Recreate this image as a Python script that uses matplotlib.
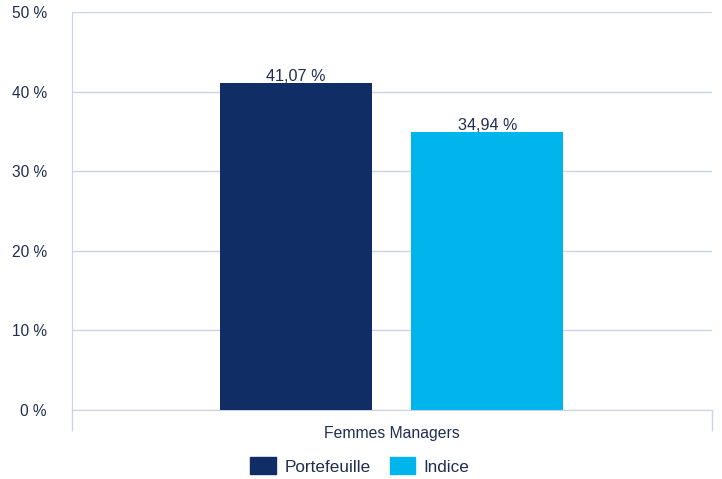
import numpy as np
import matplotlib.pyplot as plt
from matplotlib.patches import Patch

plt.rcParams['font.family'] = ['Liberation Sans', 'DejaVu Sans']

category = "Femmes Managers"
series = ["Portefeuille", "Indice"]
values = [41.07, 34.94]
labels = ["41,07 %", "34,94 %"]
colors = ["#112d66", "#00b5ec"]
yticks = [0, 10, 20, 30, 40, 50]

text_col = "#1f2d4f"
grid_col = "#c9d4e4"

fig = plt.figure(figsize=(7.22, 4.79), dpi=100)
ax = fig.add_axes([72/722, 1 - 410/479, 640/722, 398/479])

offsets = [-0.15, 0.149]
width = 0.2375
for off, v, lab, c in zip(offsets, values, labels, colors):
    ax.bar(off, v, width=width, color=c, zorder=3)
    ax.text(off, v - 0.1, lab, ha='center', va='bottom', fontsize=11.6, color=text_col, zorder=4)

ax.set_xlim(-0.5, 0.5)
ax.set_ylim(0, 50)
ax.set_yticks(yticks)
ax.set_yticklabels([f"{t} %" for t in yticks], fontsize=11.2, color=text_col)
ax.tick_params(axis='y', length=0, pad=18)
ax.yaxis.grid(True, color=grid_col, linewidth=1, zorder=0)

ax.set_xticks([-0.5, 0.5], minor=False)
ax.set_xticklabels(["", ""])
ax.tick_params(axis='x', length=15, color=grid_col, width=1)
ax.text(0, -2.9, category, ha='center', va='center', fontsize=11.3, color=text_col,
        transform=ax.transData)

for s in ['top', 'right']:
    ax.spines[s].set_visible(False)
for s in ['left', 'bottom']:
    ax.spines[s].set_color(grid_col)
ax.spines['left'].set_bounds(0, 50)

handles = [Patch(color=c, label=s) for c, s in zip(colors, series)]
fig.legend(handles=handles, loc='center', bbox_to_anchor=(360/722, 1 - 466/479), ncol=2,
           frameon=False, fontsize=12.3, handlelength=1.5, handleheight=1.15,
           handletextpad=0.5, columnspacing=1.1, labelcolor=text_col)

fig.savefig("out.png", dpi=100)
